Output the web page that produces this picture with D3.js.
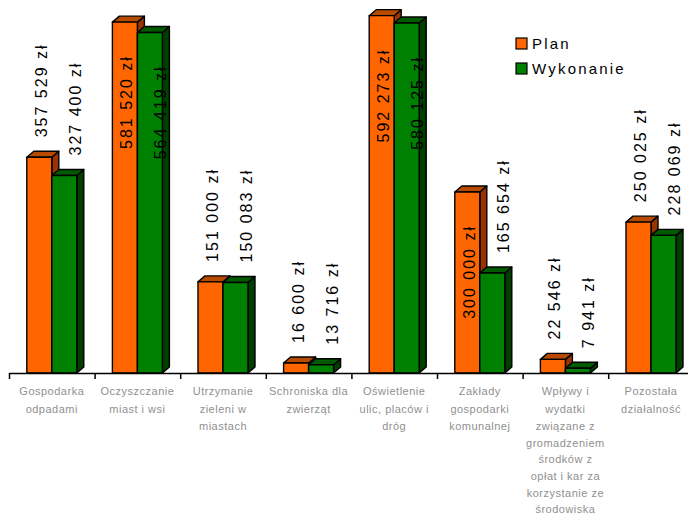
<!DOCTYPE html>
<html>
<head>
<meta charset="utf-8">
<script src="https://cdn.jsdelivr.net/npm/d3@7"></script>
<style>
  html, body { margin: 0; padding: 0; background: #fff; }
  svg { display: block; }
</style>
</head>
<body>
<svg id="chart" width="688" height="517"></svg>
<script>
// ---- data ----
const categories = [
  "Gospodarka\nodpadami",
  "Oczyszczanie\nmiast i wsi",
  "Utrzymanie\nzieleni w\nmiastach",
  "Schroniska dla\nzwierząt",
  "Oświetlenie\nulic, placów i\ndróg",
  "Zakłady\ngospodarki\nkomunalnej",
  "Wpływy i\nwydatki\nzwiązane z\ngromadzeniem\nśrodków z\nopłat i kar za\nkorzystanie ze\nśrodowiska",
  "Pozostała\ndziałalność"
];
const seriesNames = ["Plan", "Wykonanie"];
const planValues = [357529, 581520, 151000, 16600, 592273, 300000, 22546, 250025];
const execValues = [327400, 564419, 150083, 13716, 580125, 165654, 7941, 228069];
// whether each value label sits inside its bar
const planLabelInside = [false, true, false, false, true, true, false, false];
const execLabelInside = [false, true, false, false, true, false, false, false];

// ---- setup ----
const svg = d3.select("#chart");
const baseY = 373, topY = 11;
const left = 9, step = 85.6;
const right = left + step * categories.length;

const y = d3.scaleLinear().domain([0, 600000]).range([baseY, topY]);
const x = d3.scaleBand().domain(d3.range(categories.length)).range([left, right]).padding(0);
const xInner = d3.scaleBand().domain(seriesNames).range([0, x.bandwidth()])
  .paddingInner(0).paddingOuter(0.712);

const colors = {
  "Plan": { front: "#FF6600", top: "#B84A00", side: "#993300" },
  "Wykonanie": { front: "#008000", top: "#005A00", side: "#003F00" }
};
const dx = 7, dy = 6;

const locale = d3.formatLocale({ decimal: ",", thousands: " ", grouping: [3], currency: ["", " zł"] });
const fmt = v => locale.format(",")(v) + " zł";

const rows = [];
categories.forEach((c, i) => {
  rows.push({ i, s: "Plan", v: planValues[i], inside: planLabelInside[i], k: 0 });
  rows.push({ i, s: "Wykonanie", v: execValues[i], inside: execLabelInside[i], k: 1 });
});

// ---- bars (3D) ----
const gBars = svg.append("g");
rows.forEach(d => {
  const x0 = x(d.i) + xInner(d.s);
  const x1 = x0 + xInner.bandwidth();
  const yt = y(d.v);
  const col = colors[d.s];
  const g = gBars.append("g").attr("stroke", "#000").attr("stroke-width", 1.4).attr("stroke-linejoin", "round");
  g.append("polygon")
    .attr("points", [[x1, yt], [x1 + dx, yt - dy], [x1 + dx, baseY - dy], [x1, baseY]].map(p => p.join(",")).join(" "))
    .attr("fill", col.side);
  g.append("polygon")
    .attr("points", [[x0, yt], [x0 + dx, yt - dy], [x1 + dx, yt - dy], [x1, yt]].map(p => p.join(",")).join(" "))
    .attr("fill", col.top);
  g.append("rect")
    .attr("x", x0).attr("y", yt).attr("width", x1 - x0).attr("height", baseY - yt)
    .attr("fill", col.front);
});

// ---- axis ----
const xIdx = d3.scaleLinear().domain([0, categories.length]).range([left, right]);
const axis = svg.append("g")
  .attr("transform", `translate(0,${baseY})`)
  .call(d3.axisBottom(xIdx).tickValues(d3.range(categories.length + 1)).tickSize(6).tickSizeOuter(0).tickFormat(""));
axis.select(".domain").attr("stroke", "#000").attr("stroke-width", 1.5);
axis.selectAll(".tick line").attr("stroke", "#000").attr("stroke-width", 1.5);

// ---- category labels ----
const gCat = svg.append("g")
  .attr("font-family", "'Liberation Sans', Arial, sans-serif")
  .attr("font-size", 11)
  .attr("letter-spacing", 0.5)
  .attr("fill", "#909090")
  .attr("text-anchor", "middle");
categories.forEach((c, i) => {
  const cx = x(i) + x.bandwidth() / 2;
  const t = gCat.append("text").attr("x", cx).attr("y", 395);
  c.split("\n").forEach((line, j) => {
    t.append("tspan")
      .attr("x", cx)
      .attr("y", 395 + j * 16.7 + (j > 0 ? 1.5 : 0))
      .text(line);
  });
});

// ---- value labels ----
const gLab = svg.append("g")
  .attr("font-family", "'Liberation Sans', Arial, sans-serif")
  .attr("font-size", 16)
  .attr("letter-spacing", 2)
  .attr("fill", "#000");
rows.forEach(d => {
  const cx = x(d.i) + x.bandwidth() / 2 + 6 + (d.k === 0 ? -17 : 17);
  const yt = y(d.v);
  const lx = cx + 6;
  let ly, anchor;
  if (d.inside) { ly = yt + 33; anchor = "end"; }
  else { ly = yt - 20; anchor = "start"; }
  gLab.append("text")
    .attr("transform", `translate(${lx},${ly}) rotate(-90)`)
    .attr("text-anchor", anchor)
    .text(fmt(d.v));
});

// ---- legend ----
const gLeg = svg.append("g")
  .attr("font-family", "'Liberation Sans', Arial, sans-serif")
  .attr("font-size", 15)
  .attr("letter-spacing", 2.2);
seriesNames.forEach((s, j) => {
  const yy = 38 + j * 25;
  gLeg.append("rect").attr("x", 516).attr("y", yy).attr("width", 11).attr("height", 11)
    .attr("fill", colors[s].front).attr("stroke", "#000").attr("stroke-width", 1.2);
  gLeg.append("text").attr("x", 532).attr("y", yy + 10.5).attr("fill", "#000").text(s);
});
</script>
</body>
</html>
